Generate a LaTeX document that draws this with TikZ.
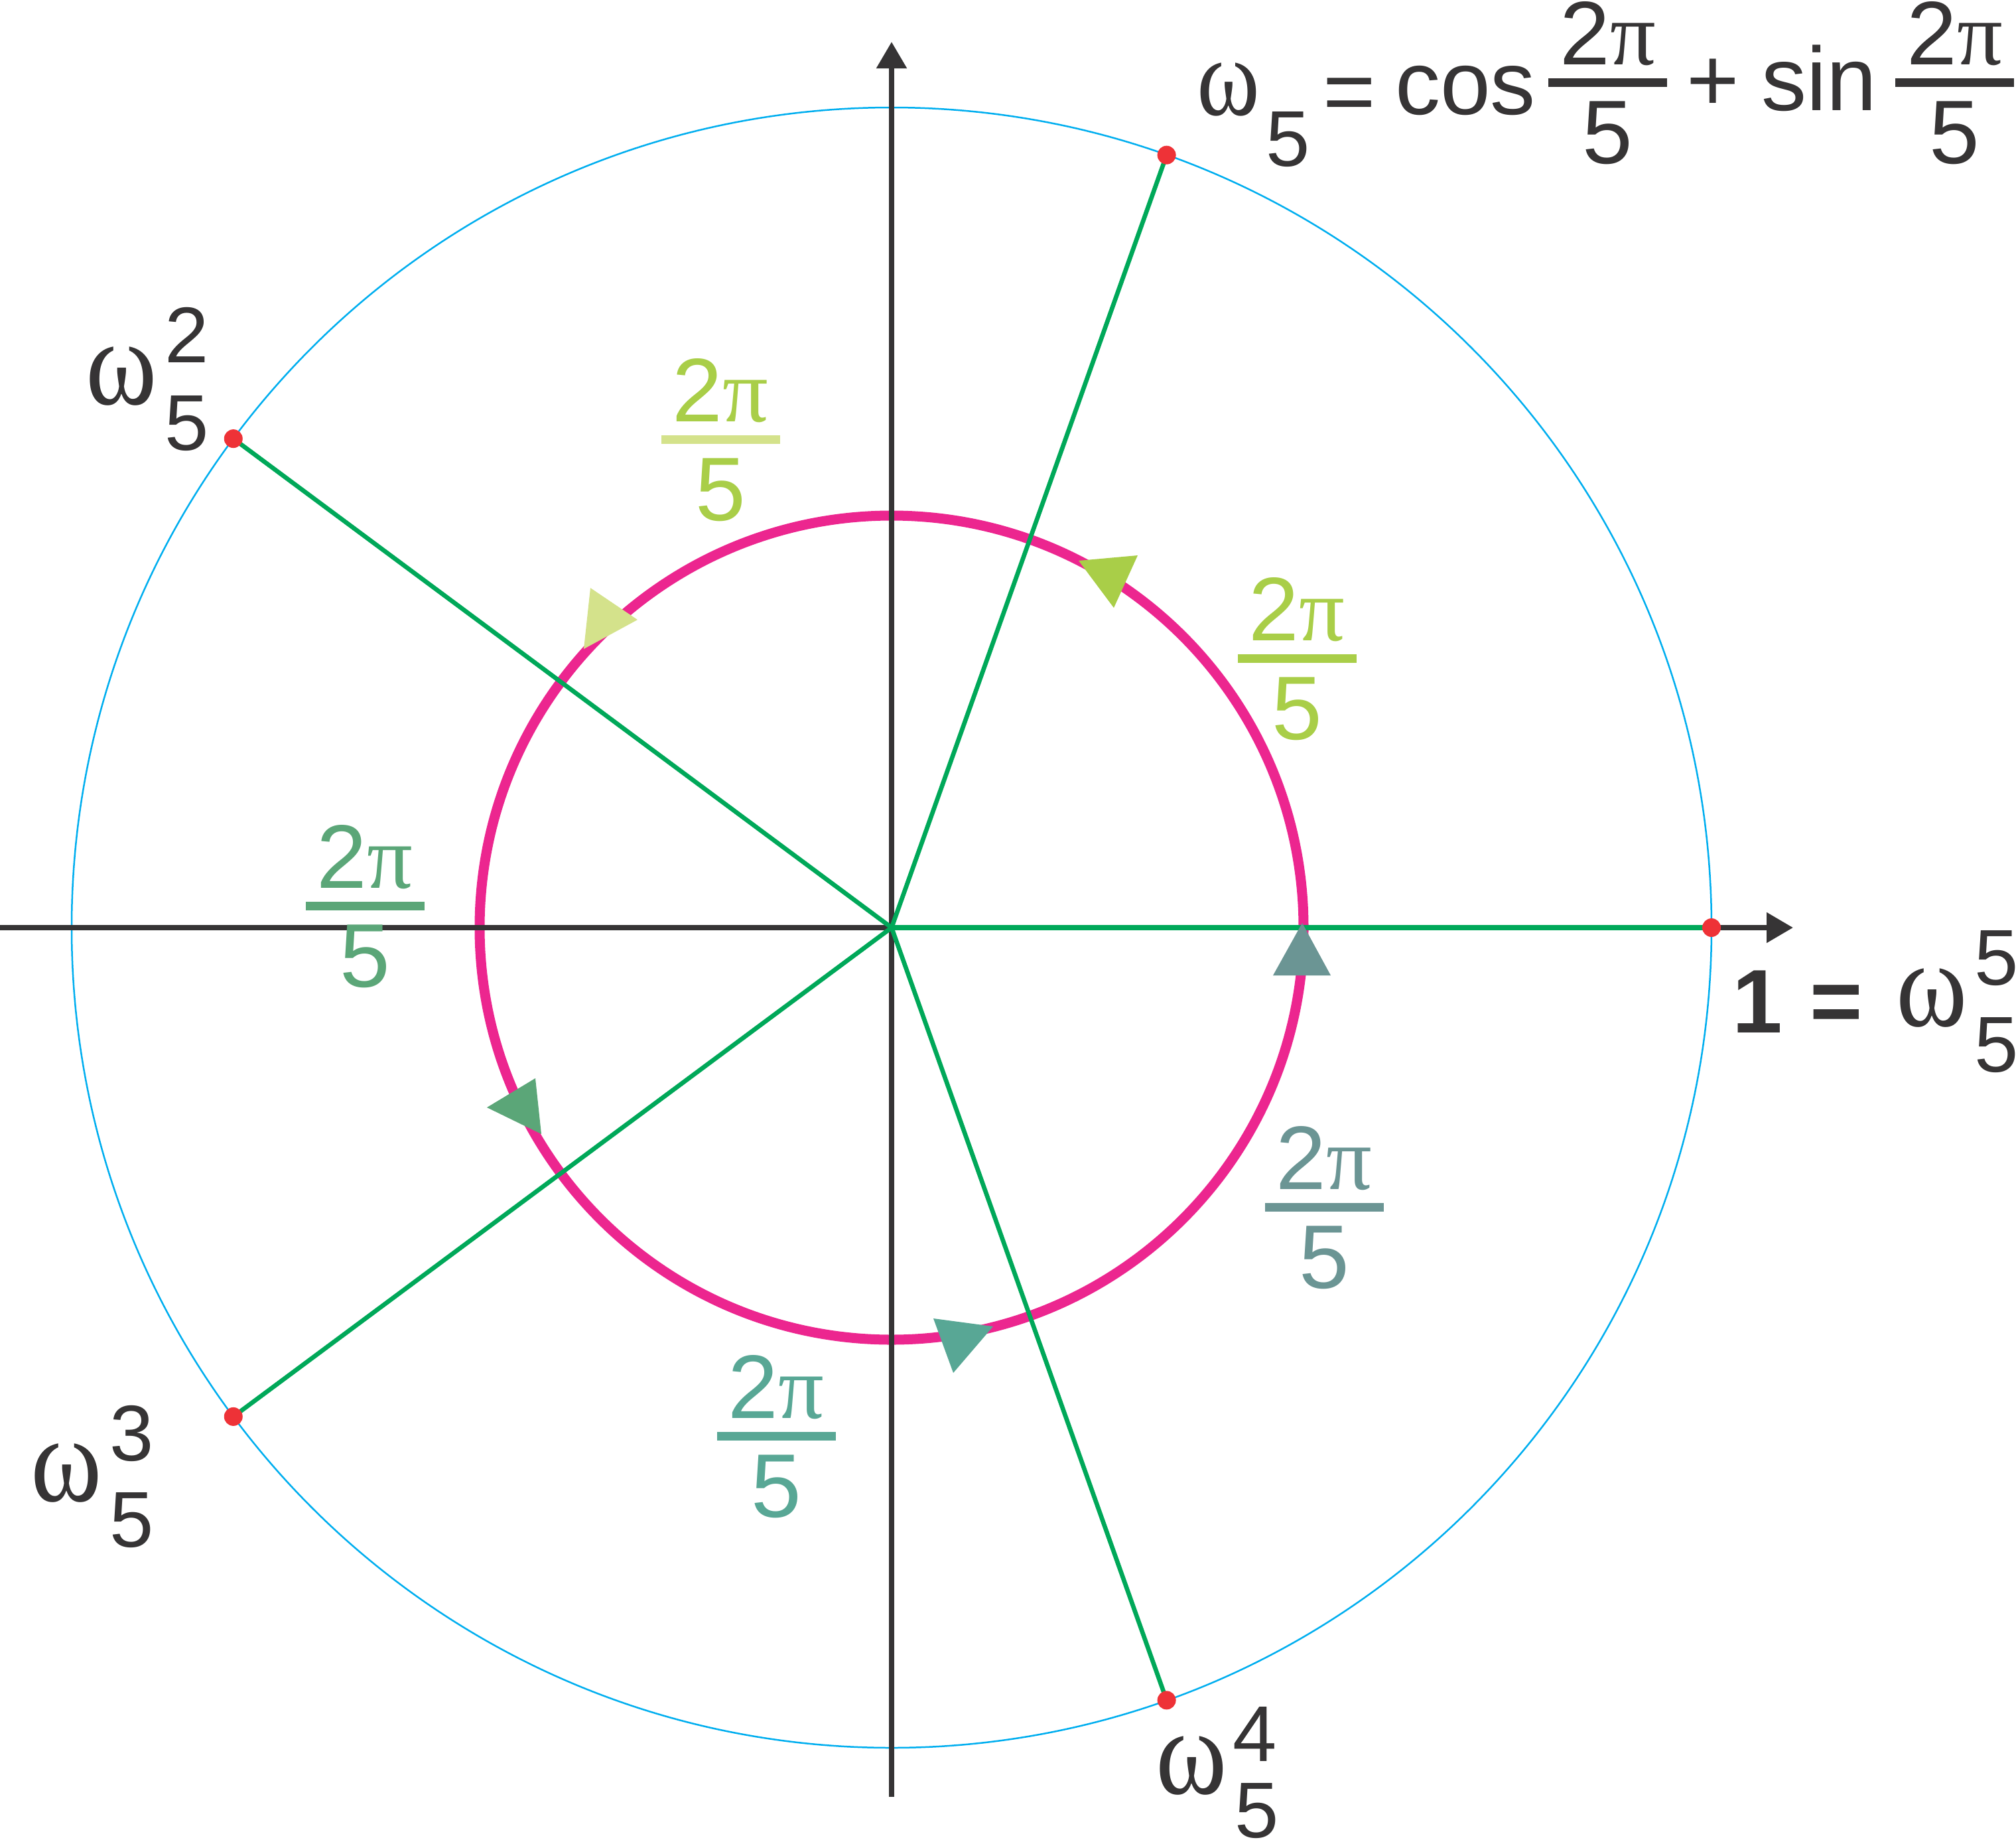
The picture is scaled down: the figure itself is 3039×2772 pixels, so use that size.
\documentclass[tikz,border=0pt]{standalone}
\usepackage{fontspec}
\setmainfont{Liberation Sans}
\newfontfamily\grk{Liberation Serif}
\usetikzlibrary{arrows.meta}
\definecolor{axisc}{HTML}{363435}
\definecolor{spoke}{HTML}{00A859}
\definecolor{ring}{HTML}{EC268F}
\definecolor{outerc}{HTML}{00AEEF}
\definecolor{dotred}{HTML}{EE3237}
\definecolor{cYG}{HTML}{A9CE48}
\definecolor{cPale}{HTML}{D4E28B}
\definecolor{cLG}{HTML}{5BA678}
\definecolor{cGT}{HTML}{6B9594}
\definecolor{cTeal}{HTML}{58A795}
\tikzset{
  lbl/.style={inner sep=0pt, outer sep=0pt, anchor=base, font=\fontsize{38.7}{40}\selectfont},
  scr/.style={inner sep=0pt, outer sep=0pt, anchor=base, text=axisc, font=\fontsize{33.9}{35}\selectfont},
  om/.style={inner sep=0pt, outer sep=0pt, anchor=base, text=axisc, font=\grk\fontsize{38.7}{40}\selectfont},
  axisline/.style={draw=axisc, line width=2.42pt, -{Triangle[length=0.40cm,width=0.44cm]}},
  spokeline/.style={draw=spoke, line width=1.9pt},
  dotmark/.style={fill=dotred},
}
\newcommand\bigom{\scalebox{1.2}[1.36]{ω}}
\newcommand\smallom{\scalebox{1.22}[1.42]{ω}}
\newcommand\tpf[5]{%
  \fill[#5] ({#2-89.5},{#3-6.5}) rectangle ({#2+89.5},{#3+6.5});
  \node[lbl, text=#4] (#1n) at (#2,{#3-26.5}) {2{\grk π}};
  \node[lbl, text=#4] (#1d) at (#2,{#3+122}) {5};
}
\begin{document}
\begin{tikzpicture}[x=0.01cm,y=-0.01cm]
\useasboundingbox (0,0) rectangle (3039,2772);
\coordinate (O) at (1344,1398);
\coordinate (P0) at (2580,1398);
\coordinate (P1) at ({1344+1236*cos(70.4)},{1398-1236*sin(70.4)});
\coordinate (P2) at ({1344+1236*cos(143.4)},{1398-1236*sin(143.4)});
\coordinate (P3) at ({1344+1236*cos(216.6)},{1398-1236*sin(216.6)});
\coordinate (P4) at ({1344+1236*cos(289.6)},{1398-1236*sin(289.6)});
\coordinate (XL) at (0,1398);
\coordinate (XR) at (2703,1398);
\coordinate (YB) at (1344,2708);
\coordinate (YT) at (1344,63);
% outer unit circle
\draw[outerc, line width=0.71pt] (O) circle[radius=1236];
% pink circle
\draw[ring, line width=4.27pt] (O) circle[radius=621];
% axes
\draw[axisline] (XL) -- (XR);
\draw[axisline] (YB) -- (YT);
% spokes
\draw[spokeline, line width=2.2pt] (O) -- (P0);
\draw[spokeline] (O) -- (P1);
\draw[spokeline] (O) -- (P2);
\draw[spokeline] (O) -- (P3);
\draw[spokeline] (O) -- (P4);
% dots
\foreach \p in {P0,P1,P2,P3,P4} \fill[dotmark] (\p) circle[radius=14];
% arrow triangles on the pink circle
\fill[cGT] (1963,1391) -- (1919,1470) -- (2006,1470) -- cycle;
\fill[cYG] (1626,845) -- (1715,837) -- (1679,916) -- cycle;
\fill[cPale] (890,886) -- (961,934) -- (880,978) -- cycle;
\fill[cLG] (807,1625) -- (734,1669) -- (816,1709) -- cycle;
\fill[cTeal] (1407,1987) -- (1497,1999) -- (1437,2069) -- cycle;
% angle labels
\tpf{fa}{1086}{662}{cYG}{cPale}
\tpf{fb}{1955}{992}{cYG}{cYG}
\tpf{fc}{550}{1365}{cLG}{cLG}
\tpf{fd}{1996}{1819}{cGT}{cGT}
\tpf{fe}{1170}{2164}{cTeal}{cTeal}
% omega labels
\node[om] (w2) at (183.5,609) {\bigom};
\node[scr] (w2s) at (281.5,546) {2};
\node[scr] (w2b) at (281.5,678) {5};
\node[om] (w3) at (100.5,2262) {\bigom};
\node[scr] (w3s) at (198.5,2201) {3};
\node[scr] (w3b) at (199,2331) {5};
\node[om] (w4) at (1796,2703) {\bigom};
\node[scr] (w4s) at (1892,2654) {4};
\node[scr] (w4b) at (1895,2769) {5};
\node[lbl, text=axisc, font=\bfseries\fontsize{38.7}{40}\selectfont] (one) at (2649.5,1556) {1};
\node[lbl, text=axisc, font=\bfseries\fontsize{38.7}{40}\selectfont] (eq1) at (2768.5,1555) {=};
\node[om] (w5) at (2912,1546) {\bigom};
\node[scr] (w5s) at (3009.5,1484) {5};
\node[scr] (w5b) at (3009.5,1615) {5};
% top formula
\node[om, font=\grk\fontsize{33.6}{35}\selectfont] (w1) at (1851.5,173) {\smallom};
\node[scr] (w1b) at (1941.5,250) {5};
\node[lbl, text=axisc] (eq2) at (2034.5,184) {=};
\node[lbl, text=axisc] (cos) at (2209,172) {cos};
\tpf{ff}{2423.5}{124}{axisc}{axisc}
\node[lbl, text=axisc] (plus) at (2582,167) {+};
\node[lbl, text=axisc] (sin) at (2742,166) {sin};
\tpf{fg}{2946.5}{124}{axisc}{axisc}
\end{tikzpicture}
\end{document}
